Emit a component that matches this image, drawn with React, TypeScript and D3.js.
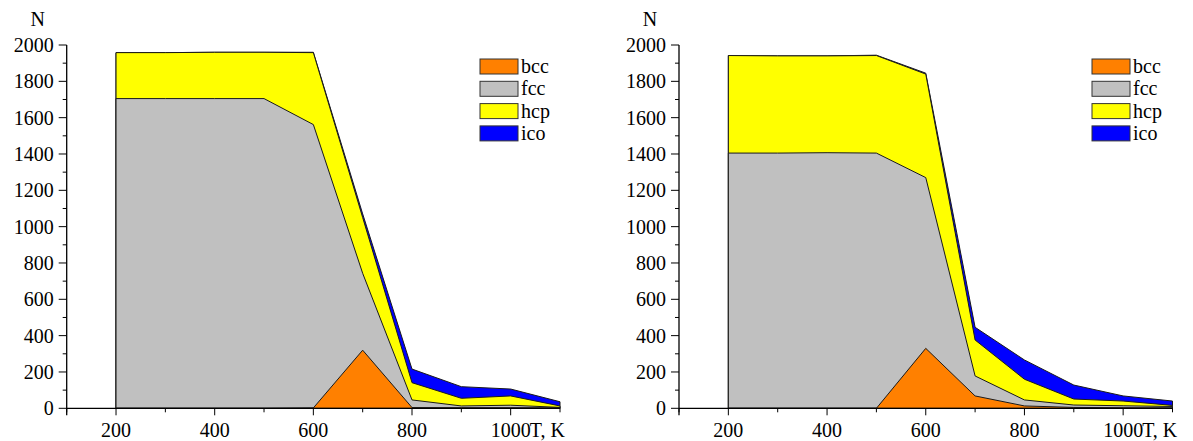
import React from "react";
import * as d3 from "d3";

const temps = [200, 300, 400, 500, 600, 700, 800, 900, 1000, 1100];
const phases = ["bcc", "fcc", "hcp", "ico"];
const phaseColors = ["#FF8000", "#C0C0C0", "#FFFF00", "#0000FF"];

// Left panel (counts per phase)
const leftBcc = [0, 0, 0, 0, 2, 320, 4, 3, 3, 2];
const leftFcc = [1705, 1705, 1705, 1705, 1560, 423, 42, 10, 14, 3];
const leftHcp = [253, 253, 255, 255, 396, 307, 95, 42, 51, 8];
const leftIco = [0, 0, 0, 0, 2, 20, 75, 64, 38, 23];

// Right panel
const rightBcc = [0, 0, 0, 0, 330, 68, 13, 5, 3, 2];
const rightFcc = [1405, 1405, 1407, 1405, 940, 110, 33, 13, 11, 8];
const rightHcp = [537, 535, 533, 537, 570, 198, 114, 33, 26, 6];
const rightIco = [0, 0, 0, 2, 5, 70, 106, 77, 28, 24];

const xMajorTicks = [200, 400, 600, 800, 1000];
const xMinorTicks = [100, 300, 500, 700, 900, 1100];
const yMajorTicks = [0, 200, 400, 600, 800, 1000, 1200, 1400, 1600, 1800, 2000];
const yMinorTicks = [100, 300, 500, 700, 900, 1100, 1300, 1500, 1700, 1900];

const FS = 20;
const textStyle: React.CSSProperties = {
  fontFamily: "Liberation Serif, DejaVu Serif, serif",
  fontSize: FS,
};

type PanelProps = {
  left: number;
  right: number;
  series: number[][];
  legendX: number;
};

function Panel({ left, right, series, legendX }: PanelProps) {
  const x = d3.scaleLinear().domain([100, 1100]).range([left, right]);
  const y = d3.scaleLinear().domain([0, 2000]).range([408.3, 45]);

  const rows = temps.map((t, i) => {
    const o: any = { t };
    phases.forEach((p, k) => (o[p] = series[k][i]));
    return o;
  });
  const stacked = d3.stack<any>().keys(phases)(rows);
  const area = d3
    .area<any>()
    .x((d) => x(d.data.t))
    .y0(() => y(0))
    .y1((d) => y(d[1]));

  const order = [3, 2, 1, 0];
  const y0 = y(0);

  return (
    <g>
      {order.map((k) => (
        <path
          key={phases[k]}
          d={area(stacked[k] as any) || ""}
          fill={phaseColors[k]}
          stroke="#1a1a1a"
          strokeWidth={1}
          strokeLinejoin="miter"
        />
      ))}
      {/* axes */}
      <line x1={left} x2={right} y1={y0} y2={y0} stroke="#000" strokeWidth={1.3} />
      <line x1={left} x2={left} y1={y(2000)} y2={y0 + 7} stroke="#000" strokeWidth={1.3} />
      {xMajorTicks.map((t) => (
        <g key={"xm" + t}>
          <line x1={x(t)} x2={x(t)} y1={y0} y2={y0 + 7} stroke="#000" strokeWidth={1} />
          <text x={x(t)} y={437} textAnchor="middle" style={textStyle}>
            {t}
          </text>
        </g>
      ))}
      {xMinorTicks.map((t) => (
        <line key={"xn" + t} x1={x(t)} x2={x(t)} y1={y0} y2={y0 + 4} stroke="#000" strokeWidth={1} />
      ))}
      <text x={x(1000) + 19} y={437} textAnchor="start" style={textStyle}>
        T, K
      </text>
      {yMajorTicks.map((t) => (
        <g key={"ym" + t}>
          <line x1={left - 8} x2={left} y1={y(t)} y2={y(t)} stroke="#000" strokeWidth={1} />
          <text x={left - 13} y={y(t) + 7} textAnchor="end" style={textStyle}>
            {t}
          </text>
        </g>
      ))}
      {yMinorTicks.map((t) => (
        <line key={"yn" + t} x1={left - 4} x2={left} y1={y(t)} y2={y(t)} stroke="#000" strokeWidth={1} />
      ))}
      <text x={left - 29} y={26} textAnchor="middle" style={textStyle}>
        N
      </text>
      {/* legend */}
      {phases.map((p, k) => (
        <g key={"lg" + p}>
          <rect
            x={legendX}
            y={59 + k * 22.3}
            width={38}
            height={15}
            fill={phaseColors[k]}
            stroke="#333"
            strokeWidth={1}
          />
          <text x={legendX + 41} y={73 + k * 22.3} style={textStyle}>
            {p}
          </text>
        </g>
      ))}
    </g>
  );
}

export default function App() {
  return (
    <svg
      width={1193}
      height={441}
      style={{ position: "absolute", left: 0, top: 0, background: "#fff" }}
    >
      <rect x={0} y={0} width={1193} height={441} fill="#fff" />
      <Panel left={66.7} right={560} series={[leftBcc, leftFcc, leftHcp, leftIco]} legendX={480} />
      <Panel left={679} right={1172.5} series={[rightBcc, rightFcc, rightHcp, rightIco]} legendX={1092} />
    </svg>
  );
}
